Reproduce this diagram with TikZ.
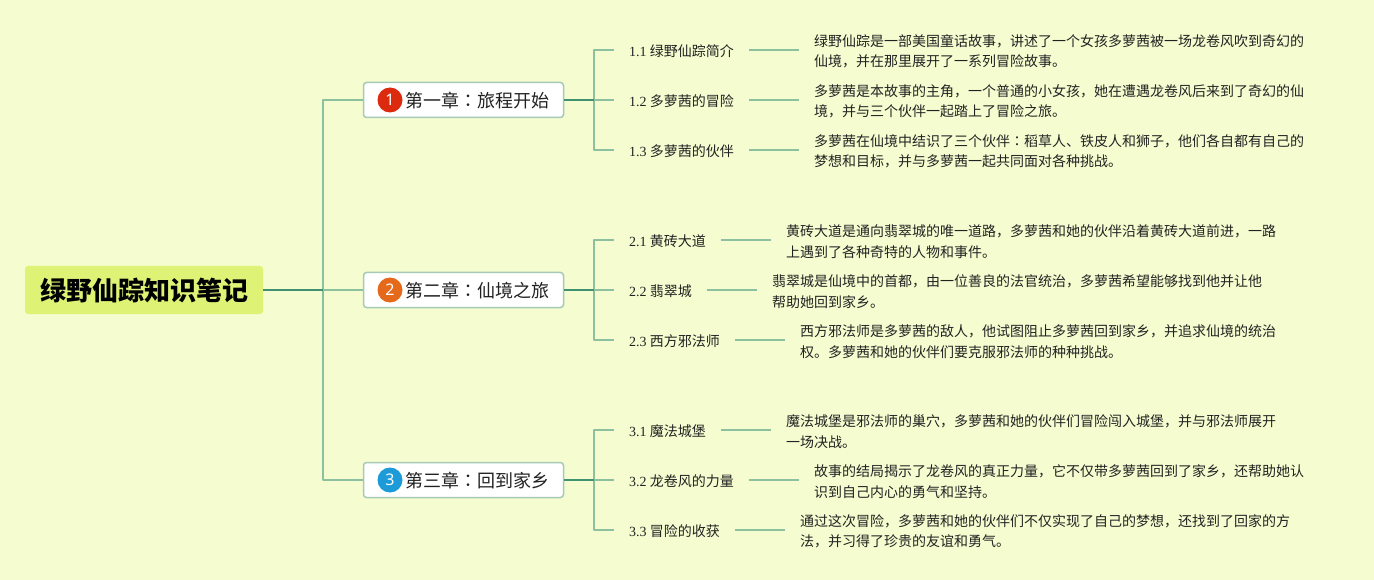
\documentclass[tikz,border=0pt]{standalone}
\usepackage{fontspec}
\setmainfont{Liberation Serif}
\setsansfont{Noto Sans}
\newfontfamily\cjk{Noto Sans CJK SC}
\newfontfamily\cjkjp{Noto Sans CJK JP}
\definecolor{paper}{HTML}{F5FDD0}
\definecolor{rootfill}{HTML}{DEF375}
\definecolor{stemgreen}{HTML}{3F9172}
\definecolor{branchgreen}{HTML}{8CC09F}
\definecolor{boxedge}{HTML}{A6C9B8}
\definecolor{inkdark}{HTML}{222222}
\definecolor{badgered}{HTML}{DC2A0E}
\definecolor{badgeorange}{HTML}{E5691A}
\definecolor{badgeblue}{HTML}{1D9BD9}
\tikzset{
	rootbox/.style={fill=rootfill, rounded corners=3pt, minimum width=238pt, minimum height=48pt, inner sep=0pt, text height=24pt, text depth=2pt, text=black, font=\cjk\fontsize{26}{30}\selectfont\bfseries},
	chapterbox/.style={fill=white, draw=boxedge, line width=1.5pt, rounded corners=3pt, minimum width=200pt, minimum height=35pt, inner sep=0pt, text height=17pt, text depth=2pt, text=inkdark, font=\cjk\fontsize{18}{22}\selectfont},
	badge/.style={shape=circle, minimum size=25pt, inner sep=0pt, text=white, font=\sffamily\fontsize{16}{18}\selectfont},
	subbox/.style={anchor=west, inner xsep=15pt, inner ysep=0pt, text height=14pt, text depth=1pt, text=inkdark, font=\cjk\fontsize{14}{21}\selectfont},
	detailbox/.style={anchor=west, inner xsep=15pt, inner ysep=0pt, align=left, text=inkdark, font=\cjk\fontsize{14}{20.5}\selectfont},
	stem/.style={draw=stemgreen, line width=2pt},
	branch/.style={draw=branchgreen, line width=2pt, line join=round},
}
\newcommand{\secno}[1]{{\rmfamily #1} }
\newcommand{\midcolon}{{\cjkjp ：}}
\begin{document}
\begin{tikzpicture}[x=1pt,y=-1pt]
	\useasboundingbox [fill=paper] (0, 0) rectangle (1374, 580);

	\node [rootbox] (root) at (144, 290) {绿野仙踪知识笔记};

	\node [chapterbox] (ch1) at (463.5, 100) {\hspace*{27pt}第一章\midcolon 旅程开始};
	\node [chapterbox] (ch2) at (463.5, 290) {\hspace*{27pt}第二章\midcolon 仙境之旅};
	\node [chapterbox] (ch3) at (463.5, 480) {\hspace*{27pt}第三章\midcolon 回到家乡};

	\node [badge, fill=badgered] (badge1) at (390, 100) {1};
	\node [badge, fill=badgeorange] (badge2) at (390, 290) {2};
	\node [badge, fill=badgeblue] (badge3) at (390, 480) {3};

	\coordinate (hub0) at (323, 290);
	\coordinate (hub1) at (594, 100);
	\coordinate (hub2) at (594, 290);
	\coordinate (hub3) at (594, 480);

	\node [subbox] (sub11) at (614, 50) {\secno{1.1}绿野仙踪简介};
	\node [subbox] (sub12) at (614, 100) {\secno{1.2}多萝茜的冒险};
	\node [subbox] (sub13) at (614, 150) {\secno{1.3}多萝茜的伙伴};

	\node [subbox] (sub21) at (614, 240) {\secno{2.1}黄砖大道};
	\node [subbox] (sub22) at (614, 290) {\secno{2.2}翡翠城};
	\node [subbox] (sub23) at (614, 340) {\secno{2.3}西方邪法师};

	\node [subbox] (sub31) at (614, 430) {\secno{3.1}魔法城堡};
	\node [subbox] (sub32) at (614, 480) {\secno{3.2}龙卷风的力量};
	\node [subbox] (sub33) at (614, 530) {\secno{3.3}冒险的收获};

	\node [detailbox] (det11) at (799, 51.5) {绿野仙踪是一部美国童话故事，讲述了一个女孩多萝茜被一场龙卷风吹到奇幻的\\仙境，并在那里展开了一系列冒险故事。};
	\node [detailbox] (det12) at (799, 101.5) {多萝茜是本故事的主角，一个普通的小女孩，她在遭遇龙卷风后来到了奇幻的仙\\境，并与三个伙伴一起踏上了冒险之旅。};
	\node [detailbox] (det13) at (799, 151.5) {多萝茜在仙境中结识了三个伙伴\midcolon 稻草人、铁皮人和狮子，他们各自都有自己的\\梦想和目标，并与多萝茜一起共同面对各种挑战。};

	\node [detailbox] (det21) at (771, 241.5) {黄砖大道是通向翡翠城的唯一道路，多萝茜和她的伙伴沿着黄砖大道前进，一路\\上遇到了各种奇特的人物和事件。};
	\node [detailbox] (det22) at (757, 291.5) {翡翠城是仙境中的首都，由一位善良的法官统治，多萝茜希望能够找到他并让他\\帮助她回到家乡。};
	\node [detailbox] (det23) at (785, 341.5) {西方邪法师是多萝茜的敌人，他试图阻止多萝茜回到家乡，并追求仙境的统治\\权。多萝茜和她的伙伴们要克服邪法师的种种挑战。};

	\node [detailbox] (det31) at (771, 431.5) {魔法城堡是邪法师的巢穴，多萝茜和她的伙伴们冒险闯入城堡，并与邪法师展开\\一场决战。};
	\node [detailbox] (det32) at (799, 481.5) {故事的结局揭示了龙卷风的真正力量，它不仅带多萝茜回到了家乡，还帮助她认\\识到自己内心的勇气和坚持。};
	\node [detailbox] (det33) at (785, 531.5) {通过这次冒险，多萝茜和她的伙伴们不仅实现了自己的梦想，还找到了回家的方\\法，并习得了珍贵的友谊和勇气。};

	\draw [branch] (hub0) |- (ch1);
	\draw [branch] (hub0) -- (ch2);
	\draw [branch] (hub0) |- (ch3);
	\draw [stem] (root) -- (hub0);

	\draw [branch] (hub1) |- (sub11);
	\draw [branch] (hub1) -- (sub12);
	\draw [branch] (hub1) |- (sub13);
	\draw [stem] (ch1) -- (hub1);

	\draw [branch] (hub2) |- (sub21);
	\draw [branch] (hub2) -- (sub22);
	\draw [branch] (hub2) |- (sub23);
	\draw [stem] (ch2) -- (hub2);

	\draw [branch] (hub3) |- (sub31);
	\draw [branch] (hub3) -- (sub32);
	\draw [branch] (hub3) |- (sub33);
	\draw [stem] (ch3) -- (hub3);

	\draw [branch] (sub11.east) -- (det11.west |- sub11.east);
	\draw [branch] (sub12.east) -- (det12.west |- sub12.east);
	\draw [branch] (sub13.east) -- (det13.west |- sub13.east);

	\draw [branch] (sub21.east) -- (det21.west |- sub21.east);
	\draw [branch] (sub22.east) -- (det22.west |- sub22.east);
	\draw [branch] (sub23.east) -- (det23.west |- sub23.east);

	\draw [branch] (sub31.east) -- (det31.west |- sub31.east);
	\draw [branch] (sub32.east) -- (det32.west |- sub32.east);
	\draw [branch] (sub33.east) -- (det33.west |- sub33.east);
\end{tikzpicture}
\end{document}
